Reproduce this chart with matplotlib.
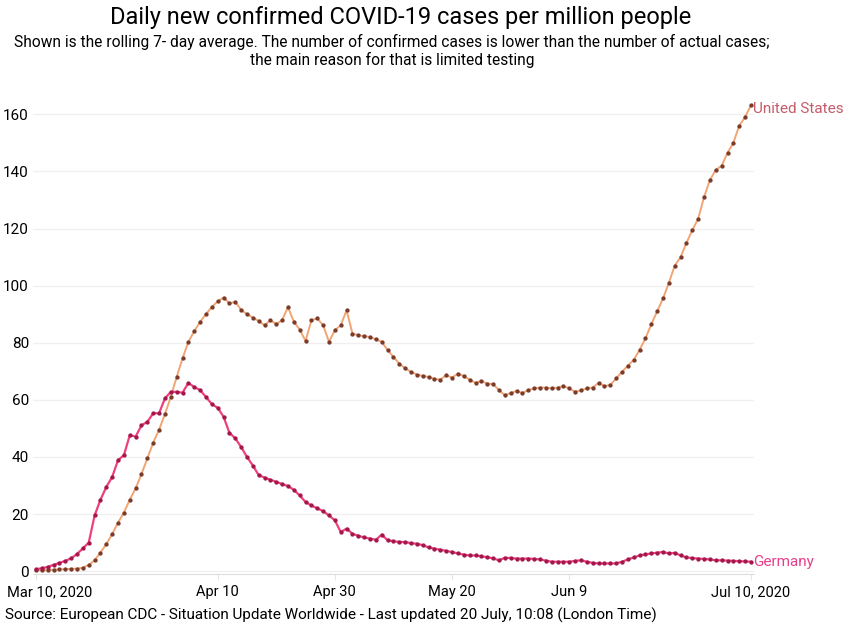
import matplotlib
matplotlib.use("Agg")
import matplotlib.pyplot as plt
import matplotlib.transforms as mtransforms
import numpy as np

plt.rcParams['font.family'] = ['Roboto', 'DejaVu Sans']

# rolling 7-day average, cases per million, one value per day from Mar 10 2020
us = [0.3, 0.3, 0.4, 0.5, 0.6, 0.7, 0.8, 0.9, 1.2, 2.2,
      3.8, 6.5, 9.5, 13, 17, 20.5, 25, 29, 34, 39.5,
      45, 49.5, 55, 61, 68, 74.5, 80.3, 84, 87.3, 90,
      92.5, 94.5, 95.8, 93.8, 94.3, 91.5, 90, 88.8, 87.6, 86.1,
      87.9, 86.5, 87.9, 92.5, 87.3, 84.6, 80.6, 87.9, 88.5, 86.1,
      80.3, 84.4, 86.1, 91.4, 83.2, 82.6, 82.3, 82, 81.2, 80.3,
      77.4, 75, 72.7, 71, 69.8, 68.8, 68.4, 68, 67.3, 67.1,
      68.6, 67.8, 69.2, 68.3, 67.1, 65.9, 66.6, 65.7, 65.5, 63.4,
      61.6, 62.4, 63.1, 62.4, 63.4, 64, 64.3, 64.3, 64, 64.3,
      64.8, 64, 62.8, 63.4, 64, 64.3, 65.9, 64.8, 65.2, 67.5,
      69.8, 72, 74, 77.5, 81.5, 86.5, 91, 95.5, 101, 107,
      110, 115, 119.4, 123.5, 131, 137, 140.5, 142, 146.5, 150,
      156, 159, 163.2]

germany = [0.7, 1, 1.5, 2.2, 2.9, 3.6, 4.5, 6, 8, 10,
           19.5, 25, 29.5, 33, 38.9, 40.6, 47.6, 47.1, 51.1, 52.3,
           55.3, 55.3, 60.5, 62.8, 62.8, 62.5, 65.9, 64.5, 63.4, 61,
           58.5, 57.2, 54.1, 48.5, 46.5, 43.5, 40, 37, 33.6, 32.8,
           32, 31.3, 30.5, 29.8, 28.5, 26.5, 24.2, 23, 22, 21,
           19.5, 17.8, 13.7, 14.9, 13.1, 12.4, 11.8, 11.4, 11, 12.8,
           10.8, 10.5, 10.2, 10.2, 9.8, 9.6, 9.1, 8.3, 7.9, 7.5,
           7.1, 6.7, 6.2, 5.8, 5.5, 5.5, 5.2, 4.9, 4.5, 3.8,
           4.7, 4.6, 4.4, 4.4, 4.4, 4.3, 4.1, 3.7, 3.3, 3.3,
           3.3, 3.3, 3.6, 3.8, 3.3, 2.9, 2.7, 2.7, 2.7, 2.7,
           3.3, 4.1, 4.8, 5.5, 5.9, 6.2, 6.5, 6.7, 6.2, 6.4,
           5.5, 4.8, 4.6, 4.4, 4.3, 4.1, 3.8, 3.8, 3.7, 3.6,
           3.5, 3.4, 3.3]

tick_days = [0, 31, 51, 71, 91, 122]
tick_labels = ["Mar 10, 2020", "Apr 10", "Apr 30", "May 20", "Jun 9", "Jul 10, 2020"]
y_ticks = [0, 20, 40, 60, 80, 100, 120, 140, 160]

days = np.arange(len(us))

fig = plt.figure(figsize=(8.48, 6.27), dpi=100)
ax = fig.add_axes([0.039, 0.0845, 0.850, 0.756])

ax.plot(days, us, color='#f2a574', lw=1.4, marker='o', ms=2.1,
        mfc='#7b3b2b', mec='#7b3b2b', zorder=3)
ax.plot(days[:len(germany)], germany, color='#f0407a', lw=1.6, marker='o', ms=2.1,
        mfc='#a3184c', mec='#a3184c', zorder=3)

ax.text(days[-1] + 0.4, us[-1] - 1.5, "United States", color='#c55a68', fontsize=11,
        va='center', ha='left')
ax.text(days[-1] + 0.4, germany[-1], "Germany", color='#e8408c', fontsize=11,
        va='center', ha='left')

ax.set_xlim(-0.5, 122.5)
ax.set_ylim(-1, 165)
ax.set_yticks(y_ticks)
ax.set_xticks(tick_days)
ax.set_xticklabels(tick_labels, fontsize=10.5)
ax.tick_params(axis='y', length=0, labelsize=11, pad=3)
ax.tick_params(axis='x', length=4, color='#e6e6e6', pad=4)
ax.grid(axis='y', color='#f0f0f0', lw=1)
ax.set_axisbelow(True)
for s in ['top', 'right', 'left']:
    ax.spines[s].set_visible(False)
ax.spines['bottom'].set_color('#dddddd')

# keep first label inside the figure
lab = ax.get_xticklabels()[0]
lab.set_transform(lab.get_transform() + mtransforms.ScaledTranslation(0.14, 0, fig.dpi_scale_trans))

fig.text(0.473, 0.972, "Daily new confirmed COVID-19 cases per million people",
         ha='center', va='center', fontsize=17)
fig.text(0.462, 0.946, "Shown is the rolling 7- day average. The number of confirmed cases is lower than the number of actual cases;\nthe main reason for that is limited testing",
         ha='center', va='top', fontsize=11.2, linespacing=1.15)
fig.text(0.006, 0.019, "Source: European CDC - Situation Update Worldwide - Last updated 20 July, 10:08 (London Time)",
         ha='left', va='center', fontsize=11)

fig.savefig("out.png", dpi=100)
